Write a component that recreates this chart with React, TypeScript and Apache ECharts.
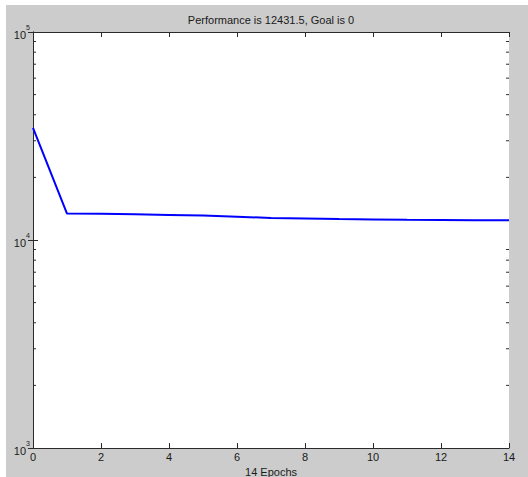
import React, { useEffect, useRef } from "react";
import * as echarts from "echarts";

const epochs = [0, 1, 2, 3, 4, 5, 6, 7, 8, 9, 10, 11, 12, 13, 14];
const performance = [34600, 13400, 13380, 13300, 13200, 13100, 12950, 12750, 12700, 12600, 12560, 12520, 12490, 12460, 12431.5];
const minorTicks = [2000, 3000, 4000, 5000, 6000, 7000, 8000, 9000, 20000, 30000, 40000, 50000, 60000, 70000, 80000, 90000];
const titleText = "Performance is 12431.5, Goal is 0";
const xName = "14 Epochs";
const yName = "Training-Blue";

const FONT = "Liberation Sans, Arial, Helvetica, sans-serif";
const TXT = "#1a1a1a";
const AX = "#2a2a2a";

export default function App() {
  const ref = useRef<HTMLDivElement>(null);
  useEffect(() => {
    if (!ref.current) return;
    const chart = echarts.init(ref.current, undefined, { renderer: "svg" });
    const commonX = {
      type: "value" as const,
      min: 0,
      max: 14,
      interval: 2,
      splitLine: { show: false },
      axisLine: { show: true, lineStyle: { color: AX, width: 1 } },
      axisTick: { show: true, inside: true, length: 5, lineStyle: { color: AX } },
    };
    const commonY = {
      type: "log" as const,
      logBase: 10,
      min: 1000,
      max: 100000,
      splitLine: { show: false },
      axisLine: { show: true, lineStyle: { color: AX, width: 1 } },
      axisTick: { show: true, inside: true, length: 5, lineStyle: { color: AX } },
    };
    chart.setOption({
      animation: false,
      backgroundColor: "#cccccc",
      textStyle: { fontFamily: FONT },
      grid: {
        left: 27,
        top: 27,
        right: 19,
        bottom: 29,
        containLabel: false,
        outerBoundsMode: "none",
        show: true,
        backgroundColor: "#ffffff",
        borderWidth: 0,
      },
      graphic: [
        {
          type: "text",
          x: 265,
          y: 15,
          style: { text: titleText, align: "center", verticalAlign: "middle", font: `11px ${FONT}`, fill: TXT },
        },
      ],
      xAxis: [
        {
          ...commonX,
          position: "bottom",
          name: xName,
          nameLocation: "middle",
          nameGap: 17,
          nameTextStyle: { color: TXT, fontSize: 11, fontFamily: FONT },
          axisLabel: { show: true, color: TXT, fontSize: 11, margin: 3, fontFamily: FONT },
        },
        {
          ...commonX,
          position: "top",
          axisLabel: { show: false },
        },
      ],
      yAxis: [
        {
          ...commonY,
          position: "left",
          name: yName,
          nameLocation: "middle",
          nameRotate: 90,
          nameGap: 31,
          nameTextStyle: { color: TXT, fontSize: 11, fontFamily: FONT },
          axisLabel: {
            show: true,
            margin: 3,
            formatter: (v: number) => `{b|10}{e|${Math.round(Math.log10(v))}}`,
            rich: {
              b: { fontSize: 11, color: TXT, fontFamily: FONT, lineHeight: 16, verticalAlign: "bottom" },
              e: { fontSize: 7, color: TXT, fontFamily: FONT, lineHeight: 8, verticalAlign: "top" },
            },
          },
        },
        {
          ...commonY,
          position: "right",
          axisLabel: { show: false },
        },
      ],
      series: [
        {
          type: "line",
          xAxisIndex: 0,
          yAxisIndex: 0,
          data: epochs.map((e, i) => [e, performance[i]]),
          showSymbol: false,
          lineStyle: { color: "#0000ff", width: 2 },
          itemStyle: { color: "#0000ff" },
          z: 3,
        },
        {
          type: "custom",
          xAxisIndex: 0,
          yAxisIndex: 0,
          silent: true,
          clip: false,
          z: 4,
          data: minorTicks.map((v) => [epochs[0], v]),
          encode: { x: 0, y: 1 },
          renderItem: (params: any, api: any) => {
            const y = api.coord([api.value(0), api.value(1)])[1];
            const cs = params.coordSys;
            const x0 = cs.x;
            const x1 = cs.x + cs.width;
            const st = { stroke: AX, lineWidth: 1 };
            return {
              type: "group",
              children: [
                { type: "line", shape: { x1: x0, y1: y, x2: x0 + 3, y2: y }, style: st },
                { type: "line", shape: { x1: x1 - 3, y1: y, x2: x1, y2: y }, style: st },
              ],
            };
          },
        },
      ],
    });
    return () => chart.dispose();
  }, []);
  return (
    <div
      ref={ref}
      style={{ position: "absolute", left: 6, top: 5, width: 522, height: 472, overflow: "hidden" }}
    />
  );
}
